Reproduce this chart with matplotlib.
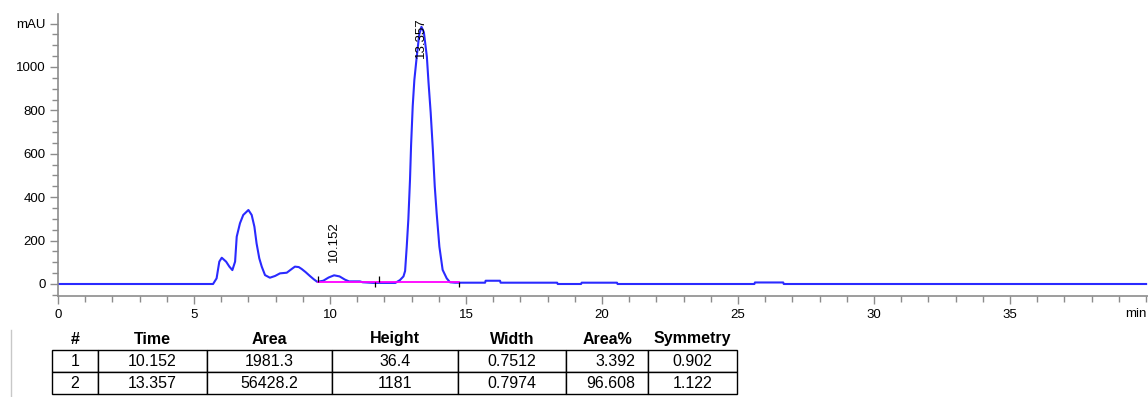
import matplotlib
matplotlib.use("Agg")
import matplotlib.pyplot as plt
from matplotlib.lines import Line2D

plt.rcParams['font.family'] = ['Liberation Sans', 'DejaVu Sans']

# signal (min, mAU)
time = [0.0, 5.70, 5.83, 5.93, 6.02, 6.18, 6.30, 6.41, 6.51, 6.57, 6.69, 6.81,
        7.00, 7.12, 7.22, 7.30, 7.40, 7.49, 7.61, 7.79, 7.98, 8.16, 8.41,
        8.60, 8.71, 8.85, 8.96, 9.10, 9.26, 9.40, 9.53, 9.75, 9.95, 10.15,
        10.35, 10.55, 10.70, 11.10, 11.20, 11.60, 12.00, 12.40, 12.57, 12.70,
        12.76, 12.82, 12.88, 12.94, 12.98, 13.04, 13.10, 13.19, 13.28, 13.36,
        13.45, 13.56, 13.62, 13.70, 13.78, 13.85, 13.92, 14.02, 14.14, 14.29,
        14.41, 14.60, 15.70, 15.72, 16.25, 16.27, 18.35, 18.37, 19.23, 19.25,
        20.55, 20.57, 25.60, 25.62, 26.66, 26.68, 40.0]
signal = [0, 0, 26, 103, 121, 103, 80, 64, 103, 218, 280, 318,
          341, 318, 264, 187, 118, 80, 41, 29, 37, 49, 52,
          70, 80, 78, 69, 55, 37, 22, 10, 15, 30, 40,
          35, 20, 12, 12, 8, 5, 5, 5, 18, 35,
          60, 172, 300, 480, 640, 820, 940, 1050, 1150, 1185,
          1160, 1047, 930, 790, 620, 450, 326, 172, 65, 26,
          8, 6, 6, 15, 15, 6, 6, 0, 0, 6,
          6, 0, 0, 7, 7, 0, 0]

peak_labels = ["10.152", "13.357"]
peak_pos = [10.152, 13.357]
peak_label_y = [100, 1040]

# integration events (start, end) and baseline level
events_up = [9.55, 11.80]
events_down = [11.65, 14.73]
base_level = 8

# results table
headers = ["#", "Time", "Area", "Height", "Width", "Area%", "Symmetry"]
row1 = ["1", "10.152", "1981.3", "36.4", "0.7512", "3.392", "0.902"]
row2 = ["2", "13.357", "56428.2", "1181", "0.7974", "96.608", "1.122"]
col_px = [46, 109, 125, 126, 108, 82, 89]

W, H = 1148, 397
fig = plt.figure(figsize=(W / 100, H / 100), dpi=100)
ax = fig.add_axes([58 / W, 101 / H, 1090 / W, 282 / H])

ax.plot(time, signal, color='#2a2aff', lw=1.5)
ax.plot([events_up[0], events_down[1]], [base_level, base_level], color='#ff00ff', lw=1.3)
ax.vlines(events_up, base_level, base_level + 30, color='black', lw=0.9)
ax.vlines(events_down, base_level - 22, base_level, color='black', lw=0.9)

for lab, x, y in zip(peak_labels, peak_pos, peak_label_y):
    ax.text(x, y, lab, rotation=90, ha='center', va='bottom', fontsize=9.5, clip_on=False)

ax.set_xlim(0, 40.07)
ax.set_ylim(-55.3, 1244)

ax.set_xticks([0, 5, 10, 15, 20, 25, 30, 35])
ax.set_xticks(range(0, 41), minor=True)
ax.set_yticks([0, 200, 400, 600, 800, 1000, 1200])
ax.set_yticklabels(['0', '200', '400', '600', '800', '1000', 'mAU'])
ax.set_yticks(range(-50, 1201, 50), minor=True)
ax.text(40.0, -136, 'min', ha='right', va='center', fontsize=9.5)

for s in ['top', 'right']:
    ax.spines[s].set_visible(False)
for s in ['left', 'bottom']:
    ax.spines[s].set_color('#8c8c8c')
    ax.spines[s].set_linewidth(1.2)
ax.tick_params(which='major', colors='#8c8c8c', labelcolor='black', labelsize=9.5, length=6, width=1)
ax.tick_params(which='minor', colors='#8c8c8c', length=4, width=1)
ax.tick_params(axis='x', pad=3)
ax.tick_params(axis='y', pad=3)

# table
tab_ax = fig.add_axes([52 / W, 3 / H, 685 / W, 66 / H])
tab_ax.axis('off')
tab = tab_ax.table(cellText=[row1, row2], colLabels=headers,
                   colWidths=[w / sum(col_px) for w in col_px],
                   cellLoc='center', bbox=[0, 0, 1, 1])
tab.auto_set_font_size(False)
tab.set_fontsize(11.5)
for (r, c), cell in tab.get_celld().items():
    cell.set_linewidth(1.0)
    if r == 0:
        cell.visible_edges = 'open'
        cell.get_text().set_fontweight('bold')
    if r > 0 and c == 5:
        cell.get_text().set_ha('right')
        cell._loc = 'right'
        cell.PAD = 0.15

fig.add_artist(Line2D([11 / W, 11 / W], [0, 67 / H], color='#c8c8c8', lw=1))

fig.savefig('out.png', dpi=100)
